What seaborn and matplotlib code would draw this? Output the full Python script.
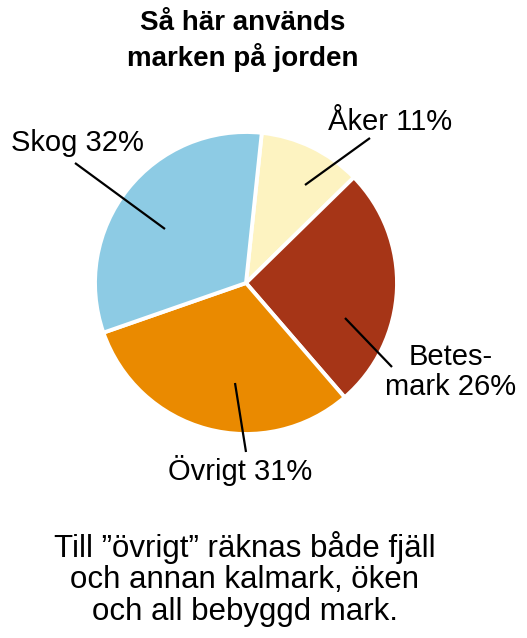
import matplotlib
matplotlib.use("Agg")
import matplotlib.pyplot as plt
import seaborn as sns

# land use shares (percent), clockwise from the top
categories = ["Åker", "Betesmark", "Övrigt", "Skog"]
shares = [11, 26, 31, 32]
labels = ["Åker 11%", "Betes-\nmark 26%", "Övrigt 31%", "Skog 32%"]
colors = ["#fdf3c1", "#a63517", "#ea8a00", "#8dcbe4"]

title_lines = ["Så här används", "marken på jorden"]
note_lines = ["Till ”övrigt” räknas både fjäll",
              "och annan kalmark, öken",
              "och all bebyggd mark."]

sns.set_theme(style="white")
plt.rcParams['font.family'] = ['Liberation Sans', 'DejaVu Sans']

W, H = 527, 638
fig = plt.figure(figsize=(W / 100, H / 100), dpi=100)
ax = fig.add_axes([0, 0, 1, 1])
ax.set_xlim(0, W)
ax.set_ylim(0, H)
ax.set_aspect('equal')
ax.axis('off')

def Y(y):
    # pixel row (top down) -> axis y
    return H - y

ax.pie(shares, colors=colors, startangle=84, counterclock=False,
       center=(246, Y(283)), radius=151,
       wedgeprops=dict(edgecolor='white', linewidth=2.8))
ax.set_xlim(0, W)
ax.set_ylim(0, H)

for i, line in enumerate(title_lines):
    ax.text(243, Y(23 + 35 * i), line, ha='center', va='center',
            fontsize=20, fontweight='bold', color='black')

# label text position and leader line (text end -> inside wedge)
label_pos = {
    "Åker": ((390, 122), (370, 138), (305, 185)),
    "Betesmark": ((451, 372), (392, 367), (345, 318)),
    "Övrigt": ((240, 470), (246, 452), (235, 383)),
    "Skog": ((77, 143), (75, 163), (165, 229)),
}
for cat, lab in zip(categories, labels):
    (tx, ty), (x0, y0), (x1, y1) = label_pos[cat]
    ax.plot([x0, x1], [Y(y0), Y(y1)], color='black', lw=1.6,
            solid_capstyle='butt')
    ax.text(tx, Y(ty), lab, ha='center', va='center', fontsize=21,
            color='black', linespacing=1.1)

for i, line in enumerate(note_lines):
    ax.text(245, Y(548 + 32 * i), line, ha='center', va='center',
            fontsize=22.5, color='black')

fig.savefig("out.png", dpi=100, facecolor='white')
